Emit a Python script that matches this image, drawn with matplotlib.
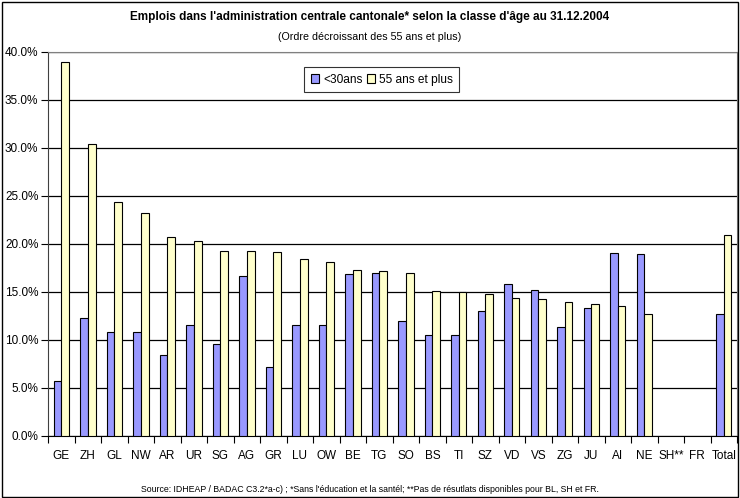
import numpy as np
import matplotlib
matplotlib.use("Agg")
import matplotlib.pyplot as plt
from matplotlib.patches import Rectangle
from matplotlib.ticker import FuncFormatter, FixedLocator

cantons = ["GE", "ZH", "GL", "NW", "AR", "UR", "SG", "AG", "GR", "LU", "OW", "BE", "TG",
           "SO", "BS", "TI", "SZ", "VD", "VS", "ZG", "JU", "AI", "NE", "SH**", "FR", "Total"]
moins30 = [5.7, 12.3, 10.8, 10.8, 8.4, 11.5, 9.6, 16.6, 7.2, 11.5, 11.5, 16.8, 17.0,
           12.0, 10.5, 10.5, 13.0, 15.8, 15.2, 11.3, 13.3, 19.0, 18.9, np.nan, np.nan, 12.7]
plus55 = [38.9, 30.4, 24.4, 23.2, 20.7, 20.3, 19.2, 19.2, 19.1, 18.4, 18.1, 17.3, 17.2,
          17.0, 15.1, 15.0, 14.8, 14.3, 14.2, 13.9, 13.7, 13.5, 12.7, np.nan, np.nan, 20.9]

plt.rcParams['font.family'] = ['Liberation Sans', 'DejaVu Sans']

fig = plt.figure(figsize=(7.4, 4.98), dpi=100)
ax = fig.add_axes([0.065, 0.125, 0.931, 0.771])

x = np.arange(len(cantons))
w = 0.29
ax.bar(x - w / 2, moins30, w, color="#9999FF", edgecolor="black", linewidth=0.8, label="<30ans", zorder=3)
ax.bar(x + w / 2, plus55, w, color="#FFFFCC", edgecolor="black", linewidth=0.8, label="55 ans et plus", zorder=3)

ax.set_xlim(-0.5, len(cantons) - 0.5)
ax.set_ylim(0, 40)
ax.set_yticks(np.arange(0, 41, 5))
ax.yaxis.set_major_formatter(FuncFormatter(lambda v, p: f"{v:.1f}%"))
ax.grid(axis="y", color="black", linewidth=0.9, zorder=0)
ax.set_axisbelow(True)

ax.set_xticks(x)
ax.set_xticklabels(cantons)
ax.xaxis.set_minor_locator(FixedLocator(np.arange(-0.5, len(cantons), 1)))
ax.tick_params(axis="x", which="major", length=0, pad=10, labelsize=8.5)
ax.tick_params(axis="x", which="minor", length=5, width=0.8, direction="out")
ax.tick_params(axis="y", length=5, width=0.8, labelsize=8.5, pad=2)

for s in ["top", "right"]:
    ax.spines[s].set_color("#808080")
ax.spines["left"].set_color("#404040")
ax.spines["bottom"].set_color("black")

leg = ax.legend(loc="upper left", bbox_to_anchor=(0.372, 0.96), ncol=2, fontsize=8.6,
                frameon=True, fancybox=False, edgecolor="black", handlelength=0.7,
                handleheight=0.7, handletextpad=0.3, columnspacing=0.4, borderpad=0.55,
                borderaxespad=0)
leg.get_frame().set_linewidth(0.8)

fig.text(0.5, 0.966, "Emplois dans l'administration centrale cantonale* selon la classe d'âge au 31.12.2004",
         ha="center", va="center", fontsize=8.5, fontweight="bold")
fig.text(0.5, 0.926, "(Ordre décroissant des 55 ans et plus)", ha="center", va="center", fontsize=7.7)
fig.text(0.5, 0.018, "Source: IDHEAP / BADAC C3.2*a-c) ; *Sans l'éducation et la santél; **Pas de résutlats disponibles pour BL, SH et FR.",
         ha="center", va="center", fontsize=6.3)

fig.patches.append(Rectangle((0.003, 0.003), 0.994, 0.993, transform=fig.transFigure,
                             fill=False, edgecolor="black", linewidth=1))

fig.savefig("out.png", dpi=100)
